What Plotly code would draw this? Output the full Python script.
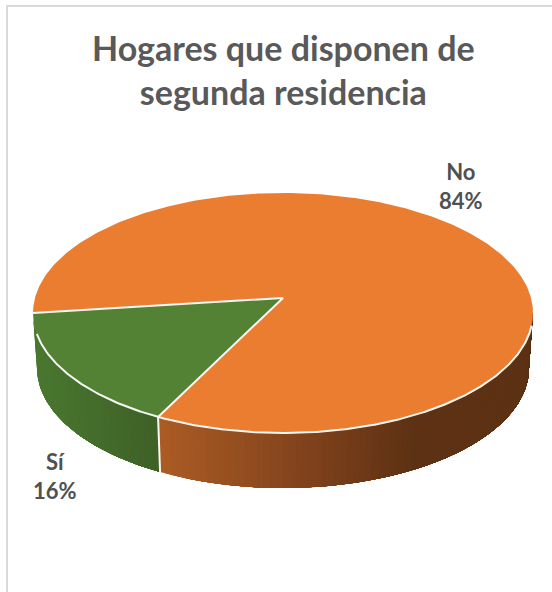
import numpy as np
import plotly.graph_objects as go

categories = ["Sí", "No"]
percentages = [16, 84]
title_lines = ["Hogares que disponen de", "segunda residencia"]

TOP_COLORS = {"Sí": "#548235", "No": "#EB7D31"}
SIDE_STOPS = {
    "Sí": [(33, (74, 120, 48)), (158, (62, 96, 38))],
    "No": [(158, (172, 92, 36)), (283, (135, 70, 30)), (410, (94, 50, 20)), (533, (92, 49, 20))],
}

# projected pie geometry, in axis units (pixels of the 552x592 frame)
CX, CY, RX, RY = 283, 313, 250, 120
APEX_Y = 298
BOT_CY, BOT_RX, BOT_RY = 368, 246, 120
START = 180.0
PERSPECTIVE = 1.042


def top_pt(t):
    r = np.radians(t)
    return CX + RX * np.cos(r), CY + RY * np.sin(r)


def bot_pt(t):
    r = np.radians(t)
    return CX + BOT_RX * np.cos(r), BOT_CY + BOT_RY * np.sin(r)


def side_color(cat, x):
    stops = SIDE_STOPS[cat]
    xs = [s[0] for s in stops]
    rgb = [np.interp(x, xs, [s[1][i] for s in stops]) for i in range(3)]
    return "rgb(%d,%d,%d)" % tuple(rgb)


split = START - percentages[0] * 3.6 * PERSPECTIVE

fig = go.Figure()


def poly(xs, ys, color):
    fig.add_trace(go.Scatter(x=list(xs), y=list(ys), mode="lines", fill="toself",
                             fillcolor=color, line=dict(width=0, color=color),
                             hoverinfo="skip", showlegend=False))


def side(cat, t_from, t_to, n):
    # later bands are painted over earlier ones, each reaches the end of the wall
    edges = np.linspace(t_from, t_to, n + 1)
    for a in edges[:-1]:
        ts = np.linspace(a, t_to, 60)
        tx, ty = top_pt(ts)
        bx, by = bot_pt(ts[::-1])
        poly(np.r_[tx, bx], np.r_[ty, by], side_color(cat, float(top_pt(a)[0])))


# walls
side("Sí", 180, split, 30)
side("No", split, 0, 80)

# top faces
ts = np.linspace(split, START - 360, 400)
x, y = top_pt(ts)
poly(np.r_[CX, x], np.r_[APEX_Y, y], TOP_COLORS["No"])
ts = np.linspace(START, split, 120)
x, y = top_pt(ts)
poly(np.r_[CX, x], np.r_[APEX_Y, y], TOP_COLORS["Sí"])


def white(xs, ys, w=2.0):
    fig.add_trace(go.Scatter(x=list(xs), y=list(ys), mode="lines",
                             line=dict(color="#F7F7F5", width=w),
                             hoverinfo="skip", showlegend=False))


rim = np.linspace(170, 6, 300)
white(*top_pt(rim))
sx, sy = top_pt(split)
bx, by = bot_pt(split)
white([sx, bx], [sy, by])
lx, ly = top_pt(START)
white([lx, CX, sx], [ly, APEX_Y, sy])

fig.update_xaxes(range=[0, 552], visible=False, fixedrange=True)
fig.update_yaxes(range=[592, 0], visible=False, fixedrange=True)

fig.update_layout(
    width=552, height=592, margin=dict(l=0, r=0, t=0, b=0),
    paper_bgcolor="white", plot_bgcolor="white", showlegend=False,
    shapes=[
        dict(type="line", x0=7, x1=7, y0=5, y1=592, line=dict(color="#D9D9D9", width=2)),
        dict(type="line", x0=6, x1=552, y0=6, y1=6, line=dict(color="#D9D9D9", width=2)),
    ],
    annotations=[
        dict(x=283, y=69, text="<br>".join(title_lines), showarrow=False, xanchor="center",
             yanchor="middle", align="center",
             font=dict(family="Lato", size=34, color="#595959", weight="bold")),
        dict(x=461, y=186, text=f"{categories[1]}<br>{percentages[1]}%", showarrow=False,
             align="center", font=dict(family="Lato", size=22, color="#505050", weight="bold")),
        dict(x=55, y=476, text=f"{categories[0]}<br>{percentages[0]}%", showarrow=False,
             align="center", font=dict(family="Lato", size=22, color="#505050", weight="bold")),
    ],
)

fig.write_html("out.html", config={"displayModeBar": False},
               post_script="document.body.style.margin='0';document.body.style.overflow='hidden';")
